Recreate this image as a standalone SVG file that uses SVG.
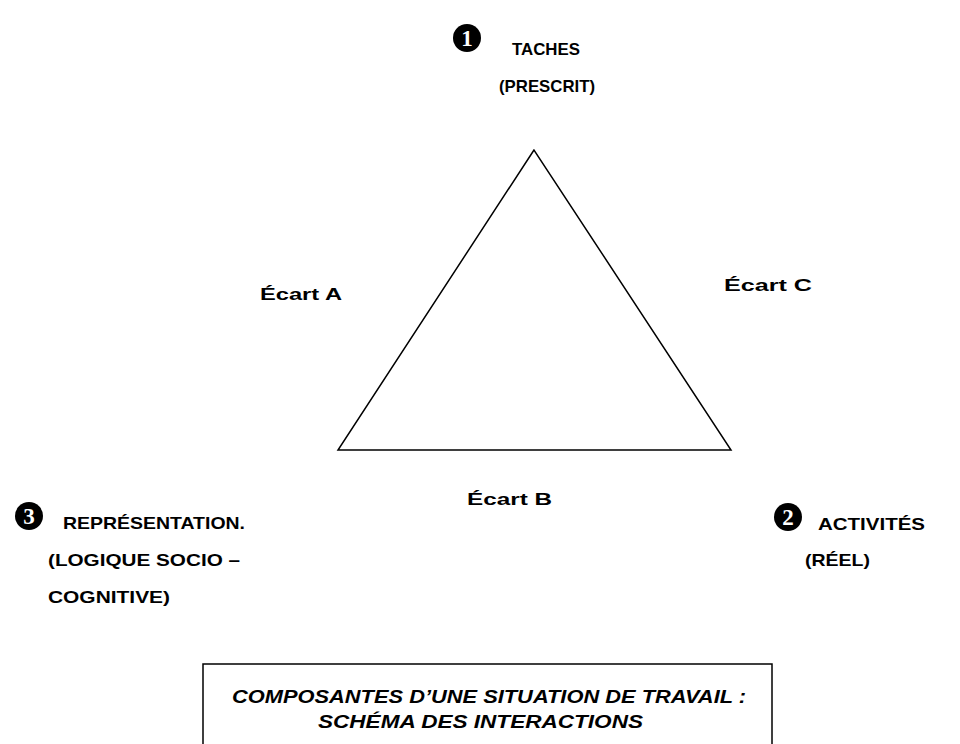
<svg xmlns="http://www.w3.org/2000/svg" width="960" height="744" viewBox="0 0 960 744">
<style>
.t{font-family:"Liberation Sans",Arial,sans-serif;font-weight:bold;font-size:17px;fill:#000}
.ti{font-family:"Liberation Sans",Arial,sans-serif;font-weight:bold;font-style:italic;font-size:18px;fill:#000}
.n{font-family:"Liberation Serif","Times New Roman",serif;font-weight:bold;font-size:23px;fill:#fff;text-anchor:middle}
.badge{fill:#000}
.edge{fill:none;stroke:#000;stroke-width:1.5}
</style>
<rect width="960" height="744" fill="#fff"/>
<g id="connectors">
<polygon class="edge" points="534,150 338,450 731,450"/>
</g>
<g id="node-taches">
<circle class="badge" cx="467" cy="38" r="14"/>
<text class="n" x="467" y="46">1</text>
<text class="t" x="512" y="55" textLength="68" lengthAdjust="spacingAndGlyphs">TACHES</text>
<text class="t" x="499" y="92" textLength="96" lengthAdjust="spacingAndGlyphs">(PRESCRIT)</text>
</g>
<g id="node-activites">
<circle class="badge" cx="788" cy="517" r="14"/>
<text class="n" x="788" y="525">2</text>
<text class="t" x="818" y="530" textLength="107" lengthAdjust="spacingAndGlyphs">ACTIVITÉS</text>
<text class="t" x="805" y="566" textLength="65" lengthAdjust="spacingAndGlyphs">(RÉEL)</text>
</g>
<g id="node-representation">
<circle class="badge" cx="29" cy="516" r="14"/>
<text class="n" x="29" y="524">3</text>
<text class="t" x="63" y="529" textLength="182" lengthAdjust="spacingAndGlyphs">REPRÉSENTATION.</text>
<text class="t" x="48" y="566" textLength="192" lengthAdjust="spacingAndGlyphs">(LOGIQUE SOCIO –</text>
<text class="t" x="48" y="603" textLength="122" lengthAdjust="spacingAndGlyphs">COGNITIVE)</text>
</g>
<g id="label-ecart-a">
<text class="t" x="260" y="300" textLength="82" lengthAdjust="spacingAndGlyphs">Écart A</text>
</g>
<g id="label-ecart-c">
<text class="t" x="724" y="291" textLength="88" lengthAdjust="spacingAndGlyphs">Écart C</text>
</g>
<g id="label-ecart-b">
<text class="t" x="467" y="505" textLength="85" lengthAdjust="spacingAndGlyphs">Écart B</text>
</g>
<g id="caption">
<rect x="203" y="664" width="569" height="100" fill="none" stroke="#000" stroke-width="1.5"/>
<text class="ti" x="232" y="703" textLength="514" lengthAdjust="spacingAndGlyphs">COMPOSANTES D’UNE SITUATION DE TRAVAIL :</text>
<text class="ti" x="318" y="728" textLength="325" lengthAdjust="spacingAndGlyphs">SCHÉMA DES INTERACTIONS</text>
</g>
</svg>
